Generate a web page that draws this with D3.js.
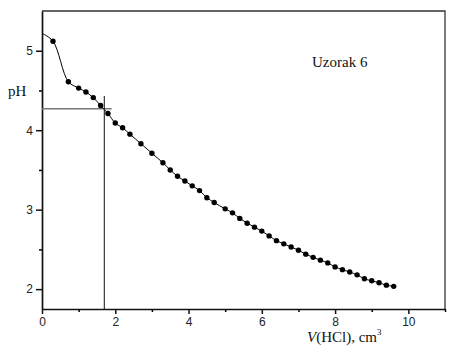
<!DOCTYPE html>
<html lang="en">
<head>
<meta charset="UTF-8" />
<script src="https://d3js.org/d3.v7.min.js"></script>
<style>
  body { margin: 0; background: #fff; }
  .tick text { font-family: "Liberation Sans", Arial, sans-serif; font-size: 12px; fill: #222; }
  .serif { font-family: "Liberation Serif", "Times New Roman", serif; fill: #111; }
</style>
</head>
<body>
<svg id="chart" width="450" height="353"></svg>
<script>
// volume of HCl added (cm3) and measured pH
var vol = [0.3, 0.72, 1.0, 1.2, 1.4, 1.6, 1.8, 2.0, 2.2, 2.4, 2.7, 3.0, 3.3, 3.5, 3.7, 3.9,
           4.1, 4.3, 4.5, 4.7, 5.0, 5.2, 5.4, 5.6, 5.8, 6.0, 6.2, 6.4, 6.6, 6.8, 7.0, 7.2,
           7.4, 7.6, 7.8, 8.0, 8.2, 8.4, 8.6, 8.8, 9.0, 9.2, 9.4, 9.6];
var ph  = [5.12, 4.61, 4.53, 4.48, 4.41, 4.31, 4.21, 4.09, 4.03, 3.95, 3.83, 3.71, 3.59, 3.50, 3.42, 3.36,
           3.30, 3.24, 3.15, 3.09, 3.01, 2.96, 2.89, 2.83, 2.78, 2.73, 2.67, 2.61, 2.57, 2.53, 2.49, 2.44,
           2.40, 2.365, 2.33, 2.28, 2.245, 2.215, 2.18, 2.13, 2.105, 2.08, 2.05, 2.035];
var curveStart = [0, 5.22];   // fitted curve begins on the axis
var markV = 1.70, markPH = 4.27, markHEnd = 1.9, markVTop = 4.43;

var xMajor = [0, 2, 4, 6, 8, 10], xMinor = [1, 3, 5, 7, 9, 11];
var yMajor = [2, 3, 4, 5], yMinor = [2.5, 3.5, 4.5];

var svg = d3.select("#chart");
var x = d3.scaleLinear().domain([0, 11]).range([42, 445]);
var y = d3.scaleLinear().domain([1.75, 5.5]).range([309, 11]);

// frame top/right
svg.append("path")
  .attr("d", "M" + x(0) + "," + y(5.5) + "H" + x(11) + "V" + y(1.75))
  .attr("fill", "none").attr("stroke", "#333").attr("stroke-width", 1.3);

// minor ticks
svg.append("g").attr("transform", "translate(0," + y(1.75) + ")")
  .call(d3.axisBottom(x).tickValues(xMinor).tickSize(3).tickSizeOuter(0).tickFormat(""))
  .call(function(g){ g.select(".domain").remove(); g.selectAll("line").attr("stroke-width", 1.5); });
svg.append("g").attr("transform", "translate(" + x(0) + ",0)")
  .call(d3.axisLeft(y).tickValues(yMinor).tickSize(3).tickSizeOuter(0).tickFormat(""))
  .call(function(g){ g.select(".domain").remove(); g.selectAll("line").attr("stroke-width", 1.5); });

var gx = svg.append("g").attr("transform", "translate(0," + y(1.75) + ")")
  .call(d3.axisBottom(x).tickValues(xMajor).tickSize(5).tickSizeOuter(0).tickPadding(3).tickFormat(d3.format("d")));
var gy = svg.append("g").attr("transform", "translate(" + x(0) + ",0)")
  .call(d3.axisLeft(y).tickValues(yMajor).tickSize(6).tickSizeOuter(0).tickPadding(3).tickFormat(d3.format("d")));
[gx, gy].forEach(function(g){
  g.select(".domain").attr("stroke", "#111").attr("stroke-width", 1.7);
  g.selectAll(".tick line").attr("stroke", "#111").attr("stroke-width", 1.5);
});

// guide lines
svg.append("line")
  .attr("x1", x(0)).attr("x2", x(markHEnd)).attr("y1", y(markPH)).attr("y2", y(markPH))
  .attr("stroke", "#777").attr("stroke-width", 1.6);
svg.append("line")
  .attr("x1", x(markV)).attr("x2", x(markV)).attr("y1", y(markVTop)).attr("y2", y(1.75))
  .attr("stroke", "#111").attr("stroke-width", 1);

var pts = vol.map(function(v, i){ return [v, ph[i]]; });
var line = d3.line()
  .x(function(d){ return x(d[0]); })
  .y(function(d){ return y(d[1]); })
  .curve(d3.curveCatmullRom.alpha(0.5));
svg.append("path")
  .datum([curveStart].concat(pts))
  .attr("d", line)
  .attr("fill", "none").attr("stroke", "#000").attr("stroke-width", 1);

svg.selectAll("circle.pt")
  .data(pts)
  .enter().append("circle")
  .attr("class", "pt")
  .attr("cx", function(d){ return x(d[0]); })
  .attr("cy", function(d){ return y(d[1]); })
  .attr("r", 2.7)
  .attr("fill", "#000");

svg.append("text").attr("class", "serif")
  .attr("x", 8).attr("y", 96).style("font-size", "15px").text("pH");
svg.append("text").attr("class", "serif")
  .attr("x", 312).attr("y", 67).style("font-size", "15px").text("Uzorak 6");

var xt = svg.append("text").attr("class", "serif")
  .attr("x", 307).attr("y", 342).style("font-size", "15px");
xt.append("tspan").style("font-style", "italic").text("V");
xt.append("tspan").text("(HCl), cm");
xt.append("tspan").attr("dy", -7).style("font-size", "9px").text("3");
</script>
</body>
</html>
